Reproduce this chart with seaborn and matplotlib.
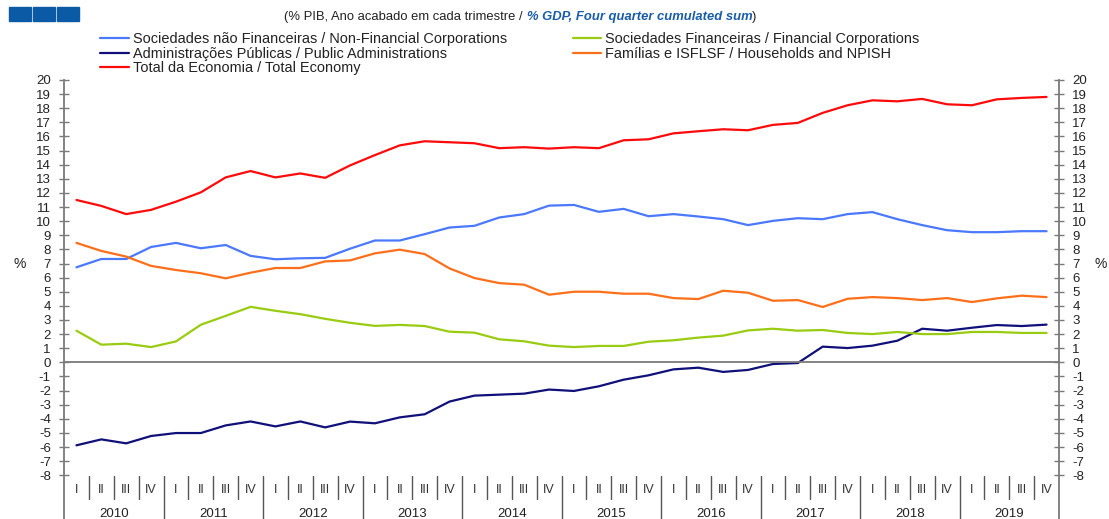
import numpy as np
import pandas as pd
import matplotlib
matplotlib.use("Agg")
import matplotlib.pyplot as plt
from matplotlib.patches import Rectangle
import seaborn as sns

# dados (% PIB, soma de 4 trimestres), 2010 T1 .. 2019 T4
anos = [2010, 2011, 2012, 2013, 2014, 2015, 2016, 2017, 2018, 2019]
trimestres = ["I", "II", "III", "IV"]

snf = [6.73, 7.32, 7.32, 8.17, 8.46, 8.08, 8.31, 7.54, 7.30, 7.37,
       7.40, 8.05, 8.63, 8.63, 9.08, 9.55, 9.67, 10.26, 10.50, 11.10,
       11.15, 10.66, 10.87, 10.35, 10.50, 10.33, 10.14, 9.72, 10.02, 10.21,
       10.14, 10.50, 10.64, 10.14, 9.72, 9.36, 9.22, 9.22, 9.29, 9.29]
sf = [2.24, 1.25, 1.32, 1.08, 1.48, 2.66, 3.29, 3.93, 3.65, 3.41,
      3.08, 2.80, 2.58, 2.65, 2.57, 2.17, 2.10, 1.63, 1.49, 1.18,
      1.08, 1.16, 1.16, 1.46, 1.56, 1.75, 1.89, 2.26, 2.38, 2.24,
      2.29, 2.08, 2.00, 2.15, 2.00, 2.00, 2.15, 2.15, 2.08, 2.08]
ap = [-5.88, -5.46, -5.74, -5.22, -5.01, -5.01, -4.47, -4.19, -4.54, -4.19,
      -4.61, -4.20, -4.32, -3.90, -3.68, -2.78, -2.36, -2.29, -2.22, -1.93,
      -2.03, -1.70, -1.23, -0.92, -0.50, -0.38, -0.68, -0.54, -0.12, -0.05,
      1.11, 1.01, 1.18, 1.53, 2.38, 2.24, 2.45, 2.64, 2.57, 2.67]
familias = [8.46, 7.89, 7.49, 6.83, 6.54, 6.31, 5.95, 6.35, 6.68, 6.68,
            7.15, 7.22, 7.72, 7.98, 7.67, 6.65, 5.97, 5.61, 5.50, 4.79,
            5.00, 5.00, 4.86, 4.86, 4.55, 4.48, 5.07, 4.93, 4.36, 4.41,
            3.92, 4.50, 4.62, 4.55, 4.41, 4.55, 4.27, 4.53, 4.72, 4.62]
total = [11.50, 11.08, 10.50, 10.80, 11.38, 12.04, 13.10, 13.55, 13.10, 13.38,
         13.07, 13.95, 14.68, 15.37, 15.66, 15.59, 15.52, 15.17, 15.24, 15.14,
         15.24, 15.17, 15.73, 15.80, 16.22, 16.37, 16.51, 16.44, 16.82, 16.96,
         17.67, 18.21, 18.56, 18.49, 18.66, 18.28, 18.21, 18.63, 18.73, 18.80]

nomes = ["Sociedades não Financeiras / Non-Financial Corporations",
         "Administrações Públicas / Public Administrations",
         "Total da Economia / Total Economy",
         "Sociedades Financeiras / Financial Corporations",
         "Famílias e ISFLSF / Households and NPISH"]
series = [snf, ap, total, sf, familias]
cores = ["#4a78ff", "#10107a", "#ff0a0a", "#99cc11", "#ff6f1a"]

n = len(total)
df = pd.concat([pd.DataFrame({"pos": np.arange(n) + 0.5, "valor": v, "serie": s})
                for s, v in zip(nomes, series)], ignore_index=True)

sns.set_style("white")
plt.rcParams["font.family"] = ["Liberation Sans", "DejaVu Sans"]
plt.rcParams["axes.unicode_minus"] = False

fig = plt.figure(figsize=(11.09, 5.19), dpi=100)
ax = fig.add_axes([64 / 1109, 0, 995 / 1109, 439 / 519])

sns.lineplot(data=df, x="pos", y="valor", hue="serie", hue_order=nomes,
             palette=dict(zip(nomes, cores)), linewidth=1.6, ax=ax)

ax.set_xlim(0, n)
ax.set_ylim(-11.1, 20)
ax.set_yticks(range(-8, 21))
ax.set_xlabel("")
ax.set_ylabel("")

cinza = "#7a7a7a"
for lado in ["left", "right"]:
    ax.spines[lado].set_color(cinza)
    ax.spines[lado].set_linewidth(1.3)
ax.spines["top"].set_visible(False)
ax.spines["bottom"].set_position(("data", 0))
ax.spines["bottom"].set_color(cinza)
ax.spines["bottom"].set_linewidth(1.3)

ax.tick_params(axis="y", direction="inout", length=7, width=1, color=cinza,
               left=True, right=True, labelleft=True, labelright=True,
               labelsize=9.5, labelcolor="#222222", pad=6)
ax.set_xticks(range(1, n))
ax.tick_params(axis="x", direction="out", length=4, width=1, color="#444444",
               labelbottom=False)

# rótulos de trimestre e ano por baixo do eixo
for k in range(1, n):
    fundo = -11.1 if k % 4 == 0 else -9.7
    ax.plot([k, k], [-8.05, fundo], color="#555555", lw=1, clip_on=False)
for i in range(n):
    ax.text(i + 0.5, -9.05, trimestres[i % 4], ha="center", va="center",
            fontsize=9, color="#333333")
for j, a in enumerate(anos):
    ax.text(j * 4 + 2, -10.75, str(a), ha="center", va="center",
            fontsize=9.5, color="#222222")

ax.text(-0.045, 7, "%", transform=ax.get_yaxis_transform(), ha="center",
        va="center", fontsize=10, color="#222222")
ax.text(1.042, 7, "%", transform=ax.get_yaxis_transform(), ha="center",
        va="center", fontsize=10, color="#222222")

# legenda
handles, labels = ax.get_legend_handles_labels()
ax.get_legend().remove()
fig.legend(handles, labels, ncol=2, loc="upper left",
           bbox_to_anchor=(100 / 1109, 1 - 32 / 519), frameon=False,
           fontsize=10.45, handlelength=1.97, handletextpad=0.27,
           labelspacing=0.05, columnspacing=4.55, borderpad=0, borderaxespad=0,
           labelcolor="#222222")

# título com parte em azul
r = fig.canvas.get_renderer()
partes = [("(% PIB, Ano acabado em cada trimestre / ", "#222222", "normal", "normal"),
          ("% GDP, Four quarter cumulated sum", "#1a5ca8", "bold", "italic"),
          (")", "#222222", "normal", "normal")]
objs = [fig.text(0, 1 - 17 / 519, t, color=c, fontweight=w, fontstyle=s,
                 fontsize=9.4, va="center", ha="left") for t, c, w, s in partes]
larguras = [o.get_window_extent(r).width for o in objs]
x0 = 520.5 - sum(larguras) / 2
for o, w in zip(objs, larguras):
    o.set_x(x0 / 1109)
    x0 += w

# logótipo
for k in range(3):
    fig.patches.append(Rectangle(((9 + k * 24) / 1109, 1 - 21 / 519), 22 / 1109,
                                 14 / 519, transform=fig.transFigure,
                                 color="#0b5aa6"))

fig.savefig("out.png", dpi=100)
